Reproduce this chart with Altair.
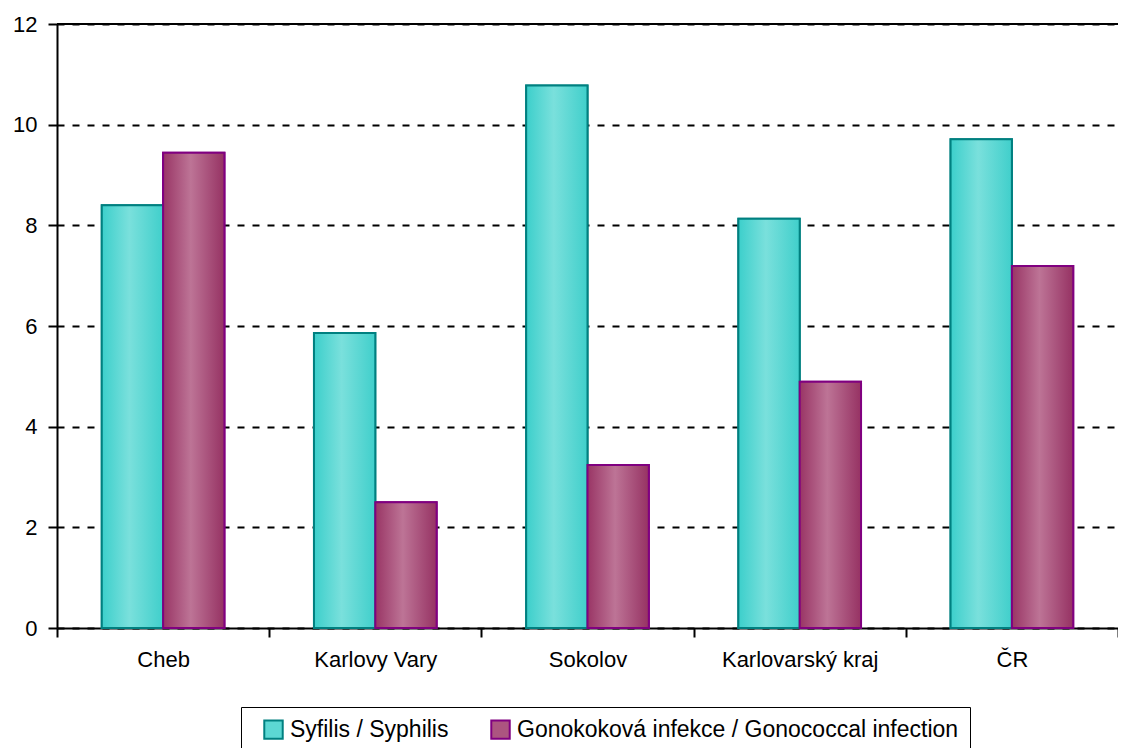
import altair as alt
import pandas as pd

categories = ["Cheb", "Karlovy Vary", "Sokolov", "Karlovarský kraj", "ČR"]
series = ["Syfilis / Syphilis", "Gonokoková infekce / Gonococcal infection"]
syphilis = [8.40, 5.86, 10.78, 8.13, 9.71]
gonococcal = [9.44, 2.50, 3.24, 4.89, 7.19]
y_ticks = [0, 2, 4, 6, 8, 10, 12]

rows = []
for c, v in zip(categories, syphilis):
    rows.append({"region": c, "series": series[0], "value": v})
for c, v in zip(categories, gonococcal):
    rows.append({"region": c, "series": series[1], "value": v})
df = pd.DataFrame(rows)

FONT = "Liberation Sans"

x_enc = alt.X("region:N", sort=categories, title=None,
              scale=alt.Scale(paddingInner=0, paddingOuter=0),
              axis=alt.Axis(labelAngle=0, tickBand="extent", grid=False))
y_enc = alt.Y("value:Q", title=None,
              scale=alt.Scale(domain=[0, 12], nice=False),
              axis=alt.Axis(values=y_ticks, grid=True))
xo = alt.XOffset("series:N", sort=series,
                 scale=alt.Scale(domain=series, paddingInner=0, paddingOuter=0.73))

base = alt.Chart(df)

legend_layer = base.mark_bar(strokeWidth=2).encode(
    x=x_enc, y=y_enc, xOffset=xo,
    fill=alt.Fill("series:N", sort=series, title=None,
                  scale=alt.Scale(domain=series, range=["#5cd8d4", "#ac5580"]),
                  legend=alt.Legend(orient="none", legendX=184, legendY=683,
                                    direction="horizontal")),
    stroke=alt.Stroke("series:N", sort=series, title=None,
                      scale=alt.Scale(domain=series, range=["#008080", "#800080"])),
)

def grad(c_edge1, c_mid, c_edge2):
    return alt.Gradient(gradient="linear", x1=0, x2=1, y1=0, y2=0,
                        stops=[alt.GradientStop(color=c_edge1, offset=0),
                               alt.GradientStop(color=c_mid, offset=0.45),
                               alt.GradientStop(color=c_edge2, offset=1)])

syph_layer = base.transform_filter(alt.datum.series == series[0]).mark_bar(
    color=grad("#3ccfcb", "#7ae0dc", "#40cfcb"), stroke="#008080", strokeWidth=2
).encode(x=alt.X("region:N", sort=categories), y="value:Q", xOffset=xo)

gono_layer = base.transform_filter(alt.datum.series == series[1]).mark_bar(
    color=grad("#993565", "#bd7496", "#963263"), stroke="#800080", strokeWidth=2
).encode(x=alt.X("region:N", sort=categories), y="value:Q", xOffset=xo)

top_rule = alt.Chart(pd.DataFrame({"v": [12]})).mark_rule(
    color="black", strokeWidth=2).encode(y="v:Q")

chart = alt.layer(legend_layer, syph_layer, gono_layer, top_rule).properties(
    width=1061, height=604,
    autosize=alt.AutoSizeParams(type="none"),
    padding={"left": 49, "top": 16, "right": 0, "bottom": 120},
).configure_view(stroke=None).configure(background="white").configure_axis(
    labelFont=FONT, labelColor="black", tickColor="black", tickWidth=2,
    domainColor="black", domainWidth=2,
).configure_axisX(
    labelFontSize=22, tickSize=9, labelPadding=12,
).configure_axisY(
    labelFontSize=22, tickSize=9, labelPadding=11,
    gridColor="black", gridWidth=2, gridDash=[7, 8],
).configure_legend(
    labelFont=FONT, labelFontSize=23, labelColor="black", labelLimit=700,
    symbolType="square", symbolSize=340, symbolStrokeWidth=2,
    columnPadding=30, padding=11, strokeColor="black", symbolOffset=10,
    labelOffset=5,
)

chart.save("out.html", embed_options={"renderer": "svg", "actions": False})
